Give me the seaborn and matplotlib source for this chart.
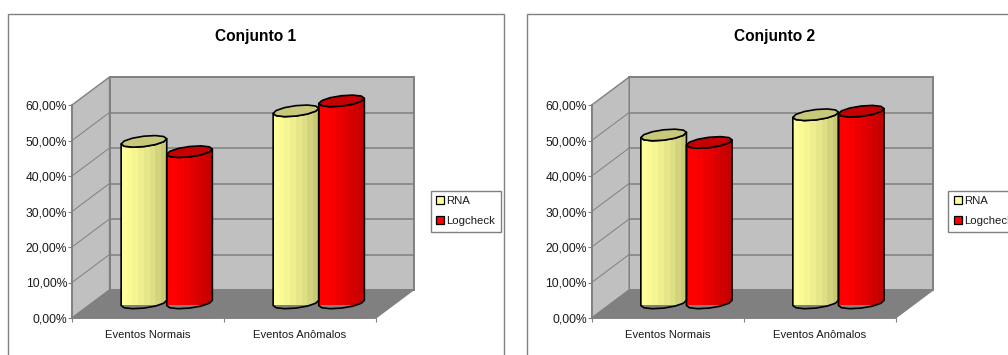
import numpy as np
import pandas as pd
import matplotlib
matplotlib.use("Agg")
import matplotlib.pyplot as plt
from matplotlib.colors import LinearSegmentedColormap
from matplotlib.patches import Patch, Polygon, Rectangle
import seaborn as sns

# Detection rates per event type, one list per data set and method
categorias = ["Eventos Normais", "Eventos Anômalos"]
series = ["RNA", "Logcheck"]
conjunto1_rna = [45.5, 54.1]
conjunto1_logcheck = [42.6, 56.9]
conjunto2_rna = [47.3, 53.0]
conjunto2_logcheck = [45.2, 54.0]
marcas_y = [0, 10, 20, 30, 40, 50, 60]
rotulos_y = ["0,00%", "10,00%", "20,00%", "30,00%", "40,00%", "50,00%", "60,00%"]

W, H = 1008, 355
PX_VAL = 213 / 60      # pixels per percentage point
PX_CAT = 152           # pixels per category
DEPTH_X, DEPTH_Y = 37.5, 28
FRONT_TOP, FRONT_BOTTOM = 105, 318
GREY = "#808080"
TXT = "#1a1a1a"

sns.set_theme(style="white")
plt.rcParams["font.family"] = ["Liberation Sans", "DejaVu Sans"]

fig = plt.figure(figsize=(W / 100, H / 100), dpi=100, facecolor="white")
canvas = fig.add_axes([0, 0, 1, 1], zorder=0)
canvas.set_xlim(0, W)
canvas.set_ylim(H, 0)
canvas.axis("off")


def axes_rect(x0, x1, y_top, y_bottom):
    return [x0 / W, 1 - y_bottom / H, (x1 - x0) / W, (y_bottom - y_top) / H]


def cylinder(ax, patch, body_colors, lid_color):
    """Turn one seaborn bar into a faceted 3D cylinder in its own axes."""
    left, width, value = patch.get_x(), patch.get_width(), patch.get_height()
    cx = left + width / 2
    half = width / 2
    tilt = 2.6 / PX_VAL
    depth = 5.2 / PX_VAL
    t = np.linspace(np.pi, 3 * np.pi, 13)

    def ring(level):
        return cx + half * np.cos(t), level + tilt * (np.cos(t) + 1) + depth * np.sin(t)

    xb, yb = ring(0)
    xt, yt = ring(value)
    # t runs from the left end along the lower, nearer half of each ring first
    near = np.arange(0, 7)
    body_x = np.r_[xt[near], xb[near][::-1]]
    body_y = np.r_[yt[near], yb[near][::-1]]
    outline = Polygon(np.c_[body_x, body_y], closed=True, fc="none", ec="black",
                      lw=1.2, joinstyle="round", clip_on=False, zorder=5)
    ax.add_patch(outline)
    cmap = LinearSegmentedColormap.from_list("faces", body_colors, N=len(body_colors))
    faces = ax.imshow(np.arange(len(body_colors))[None, :], cmap=cmap, aspect="auto",
                      interpolation="nearest", zorder=4,
                      extent=(left, left + width, yb.min(), yt.max()))
    faces.set_clip_path(outline)
    ax.add_patch(Polygon(np.c_[xt, yt], closed=True, fc=lid_color, ec="black", lw=1.2,
                         joinstyle="round", clip_on=False, zorder=6))
    patch.set_visible(False)


YELLOW_FACES = ["#ffff99", "#fbfb96", "#f5f593", "#eeee8e", "#e6e68a", "#dede85", "#d4d47f", "#c9c978"]
RED_FACES = ["#ff0000", "#ff0000", "#f70000", "#ee0000", "#e30000", "#d90000", "#cf0000", "#c60000"]
LID_COLORS = {"RNA": "#c8c87a", "Logcheck": "#c60000"}
FACE_SETS = {"RNA": YELLOW_FACES, "Logcheck": RED_FACES}


def draw_panel(frame_x, frame_w, x0, titulo, title_x, rna, logcheck, legend_x):
    back = x0 + DEPTH_X
    back_bottom = FRONT_BOTTOM - DEPTH_Y
    plot_w = PX_CAT * len(categorias)

    # chart frame, open at the bottom edge of the figure
    canvas.add_patch(Rectangle((frame_x, 14), frame_w, H + 20, fc="white", ec=GREY, lw=1.0, zorder=1))
    canvas.text(title_x, 36, titulo, ha="center", va="center", fontsize=11.2,
                fontweight="bold", color="black", zorder=2)

    # walls and floor of the box
    canvas.add_patch(Rectangle((back, FRONT_TOP - DEPTH_Y), plot_w, FRONT_BOTTOM - FRONT_TOP,
                               fc="#c0c0c0", ec=GREY, lw=1.4, zorder=2))
    canvas.add_patch(Polygon([(x0, FRONT_BOTTOM), (x0, FRONT_TOP), (back, FRONT_TOP - DEPTH_Y), (back, back_bottom)],
                             closed=True, fc="#c0c0c0", ec=GREY, lw=1.0, zorder=2))
    canvas.add_patch(Polygon([(x0, FRONT_BOTTOM), (back, back_bottom), (back + plot_w, back_bottom), (x0 + plot_w, FRONT_BOTTOM)],
                             closed=True, fc=GREY, ec=GREY, lw=0.8, zorder=3))
    for v in marcas_y[1:-1]:
        y_back = back_bottom - v * PX_VAL
        canvas.plot([back, back + plot_w], [y_back, y_back], color=GREY, lw=1.1, zorder=2.5)
        canvas.plot([x0, back], [y_back + DEPTH_Y, y_back], color=GREY, lw=0.7, zorder=2.5)

    # front plane carrying both axes
    front = fig.add_axes(axes_rect(x0, x0 + plot_w, FRONT_TOP, FRONT_BOTTOM), zorder=1, facecolor="none")
    front.set_xlim(-0.5, len(categorias) - 0.5)
    front.set_ylim(marcas_y[0], marcas_y[-1])
    front.set_yticks(marcas_y, rotulos_y)
    front.set_xticks(range(len(categorias)), categorias)
    front.set_xticks(np.arange(len(categorias) + 1) - 0.5, minor=True)
    front.tick_params(axis="y", length=3, width=0.8, color=GREY, pad=0.6, labelsize=8.7, labelcolor=TXT, left=True)
    front.tick_params(axis="x", which="major", length=0, pad=8.5, labelsize=8.1, labelcolor=TXT)
    front.tick_params(axis="x", which="minor", length=3, width=0.8, color=GREY, bottom=True)
    for side, spine in front.spines.items():
        spine.set_visible(side in ("left", "bottom"))
        spine.set_color(GREY)
        spine.set_linewidth(1.3)

    # columns stand halfway into the box depth
    mid_x = x0 + DEPTH_X / 2
    mid_bottom = FRONT_BOTTOM - DEPTH_Y / 2 + 1.5
    bars = fig.add_axes(axes_rect(mid_x, mid_x + plot_w, mid_bottom - 213, mid_bottom), zorder=2, facecolor="none")
    dados = pd.DataFrame({
        "evento": categorias * 2,
        "serie": [series[0]] * 2 + [series[1]] * 2,
        "valor": list(rna) + list(logcheck),
    })
    sns.barplot(data=dados, x="evento", y="valor", hue="serie", hue_order=series,
                width=0.6, gap=0, legend=False, ax=bars, errorbar=None)
    bars.axis("off")
    rects = list(bars.patches)
    for i, rect in enumerate(rects):
        nome = series[i // len(categorias)]
        cylinder(bars, rect, FACE_SETS[nome], LID_COLORS[nome])
    bars.set_xlim(-0.5, len(categorias) - 0.5)
    bars.set_ylim(marcas_y[0], marcas_y[-1])

    handles = [Patch(fc="#ffff99", ec="black", lw=0.9, label=series[0]),
               Patch(fc="#ff0000", ec="black", lw=0.9, label=series[1])]
    fig.legend(handles=handles, loc="upper left",
               bbox_to_anchor=(legend_x / W, 1 - 190.5 / H), bbox_transform=fig.transFigure,
               fontsize=8.2, frameon=True, fancybox=False, edgecolor=GREY, facecolor="white",
               framealpha=1, borderaxespad=0, borderpad=0.5, handlelength=0.7, handleheight=0.7,
               handletextpad=0.2, labelspacing=0.85, labelcolor=TXT).set_zorder(5)


draw_panel(8, 496, 72, "Conjunto 1", 256, conjunto1_rna, conjunto1_logcheck, 430.5)
draw_panel(527, 520, 591.7, "Conjunto 2", 775, conjunto2_rna, conjunto2_logcheck, 948.3)

fig.savefig("out.png", dpi=100, facecolor="white")
